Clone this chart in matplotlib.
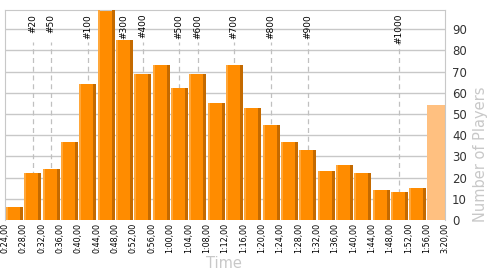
import matplotlib
matplotlib.use("Agg")
from matplotlib import pyplot as plt
import numpy as np

# bin edges (time labels) and player counts per bin
edges = ["0:24,00", "0:28,00", "0:32,00", "0:36,00", "0:40,00", "0:44,00",
         "0:48,00", "0:52,00", "0:56,00", "1:00,00", "1:04,00", "1:08,00",
         "1:12,00", "1:16,00", "1:20,00", "1:24,00", "1:28,00", "1:32,00",
         "1:36,00", "1:40,00", "1:44,00", "1:48,00", "1:52,00", "1:56,00",
         "3:20,00"]
counts = [6, 22, 24, 37, 64, 100, 85, 69, 73, 62, 69, 55,
          73, 53, 45, 37, 33, 23, 26, 22, 14, 13, 15]
rest_count = 54  # last bin 1:56 - 3:20

# rank markers: label and the bin they fall into
rank_labels = ["#20", "#50", "#100", "#200", "#300", "#400", "#500",
               "#600", "#700", "#800", "#900", "#1000"]
rank_bins = [1, 2, 4, 5, 6, 7, 9, 10, 12, 14, 16, 21]

fig = plt.figure(figsize=(5, 2.75), dpi=100)
ax = fig.add_axes([0.01, 0.2, 0.88, 0.7636])

grid_col = "#c8c8c8"
ymax = 99

for y in range(10, 100, 10):
    ax.axhline(y, color=grid_col, lw=1, zorder=1)

# rank lines + labels (behind bars)
for lab, b in zip(rank_labels, rank_bins):
    x = b + 0.5
    ax.plot([x, x], [0, 84], color="#c0c0c0", lw=0.9, ls=(0, (4, 3)), zorder=1)
    ax.text(x, ymax - 1.8, lab, rotation=90, ha="center", va="top",
            fontsize=6.5, color="black", zorder=1)

# bars with a light left edge and a dark right edge
idx = np.arange(len(counts))
w = 0.93
ax.bar(idx + 0.05, counts, width=w, align="edge", color="#ff8c00", lw=0, zorder=2)
ax.bar(idx + 0.05, counts, width=0.11, align="edge", color="#ffa73a", lw=0, zorder=3)
ax.bar(idx + 0.05 + w - 0.17, counts, width=0.17, align="edge", color="#c46a00", lw=0, zorder=3)
ax.bar(len(counts), rest_count, width=1.0, align="edge", color="#ffc080", lw=0, zorder=2)

ax.set_xlim(0, len(edges) - 1)
ax.set_ylim(0, ymax)
ax.set_xticks(np.arange(len(edges)))
ax.set_xticklabels(edges, rotation=90, fontsize=5.8)
ax.set_yticks(range(0, 100, 10))
ax.yaxis.tick_right()
ax.tick_params(axis="y", length=0, pad=5, labelsize=8.5, labelcolor="#333333")
ax.tick_params(axis="x", length=0, pad=2)

for s in ["left", "top", "right"]:
    ax.spines[s].set_color(grid_col)
ax.spines["bottom"].set_visible(False)

fig.text(0.448, 0.04, "Time", fontsize=10.5, color="#c8c8c8", ha="center", va="center")
fig.text(0.962, 0.44, "Number of Players", fontsize=10.5, color="#c8c8c8",
         rotation=90, ha="center", va="center")

fig.savefig("out.png", dpi=100)
